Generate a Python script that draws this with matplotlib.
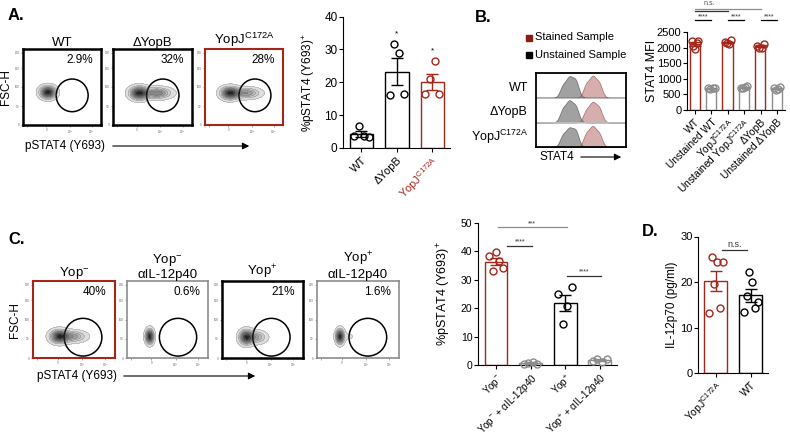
import numpy as np
import matplotlib
matplotlib.use("Agg")
import matplotlib.pyplot as plt
from matplotlib.patches import Ellipse, Rectangle, FancyArrowPatch

plt.rcParams['font.family'] = ['Liberation Sans', 'DejaVu Sans']
plt.rcParams['mathtext.fontset'] = 'custom'
plt.rcParams['mathtext.rm'] = 'Liberation Sans'
plt.rcParams['mathtext.it'] = 'Liberation Sans:italic'
plt.rcParams['mathtext.bf'] = 'Liberation Sans:bold'
plt.rcParams['mathtext.default'] = 'regular'

RED = '#a3261b'
GRAY = '#8c8c8c'
W, H = 790, 438

# ── data ──────────────────────────────────────────────────────────────────
YOPJ = r'YopJ$^{C172A}$'
YOPM = r'Yop$^{-}$'
YOPP = r'Yop$^{+}$'

# A: flow gates + pSTAT4 bars
a_flow_titles = ['WT', 'ΔYopB', YOPJ]
a_flow_pct = ['2.9%', '32%', '28%']
a_labels = ['WT', 'ΔYopB', YOPJ]
a_label_colors = ['k', 'k', RED]
a_wt = [3.8, 6.7, 3.5, 3.2]
a_dyopb = [16.0, 31.5, 29.0, 16.5]
a_yopj = [16.5, 21.0, 26.5, 16.5]
a_stars = ['', '*', '*']

# B: STAT4 histograms + MFI bars
b_rows = ['WT', 'ΔYopB', YOPJ]
b_unst_amp = [[0.45, 0.72, 0.65], [0.50, 0.75, 0.60], [0.45, 0.65, 0.62]]
b_stain_amp = [[0.50, 0.75, 0.55], [0.45, 0.70, 0.55], [0.50, 0.72, 0.50]]
b_labels = ['WT', 'Unstained WT', YOPJ, 'Unstained ' + YOPJ, 'ΔYopB', 'Unstained ΔYopB']
b_vals = [
    [2200, 2050, 1950, 2150, 2220],
    [690, 660, 700, 690],
    [2180, 2150, 2100, 2230],
    [720, 700, 740, 760],
    [2050, 1980, 2000, 2120],
    [700, 650, 680, 750],
]

# C: flow gates + pSTAT4 bars
c_flow_titles = [YOPM, YOPM + '\nαIL-12p40', YOPP, YOPP + '\nαIL-12p40']
c_flow_pct = ['40%', '0.6%', '21%', '1.6%']
c_labels = [YOPM, YOPM + ' + αIL-12p40', YOPP, YOPP + ' + αIL-12p40']
c_vals = [
    [38.5, 33.0, 39.8, 36.5, 34.0],
    [0.3, 0.8, 1.2, 0.5],
    [25.0, 14.4, 20.8, 27.3],
    [1.5, 2.0, 1.2, 2.2],
]

# D: IL-12p70
d_labels = [YOPJ, 'WT']
d_yopj = [13.1, 25.6, 19.6, 24.3, 14.2, 24.3]
d_wt = [13.4, 16.9, 22.2, 20.0, 14.3, 15.5]

fig = plt.figure(figsize=(7.9, 4.38), dpi=100)


def px_axes(x0, y0, x1, y1):
    return fig.add_axes([x0 / W, 1 - y1 / H, (x1 - x0) / W, (y1 - y0) / H])


def ftext(x, y, s, **kw):
    fig.text(x / W, 1 - y / H, s, **kw)


def farrow(x0, x1, y):
    fig.add_artist(FancyArrowPatch((x0 / W, 1 - y / H), (x1 / W, 1 - y / H),
                                   transform=fig.transFigure, arrowstyle='-|>',
                                   mutation_scale=10, lw=0.8, color='k'))


gx, gy = np.meshgrid(np.linspace(0, 1, 220), np.linspace(0, 1, 220))


def flow_plot(box, title, pct, edge, lw, blob, gate):
    ax = px_axes(*box)
    cx, cy, sx, sy, tail, tx = blob
    z = np.exp(-((gx - cx) ** 2 / (2 * sx ** 2) + (gy - cy) ** 2 / (2 * sy ** 2)))
    z += tail * np.exp(-((gx - tx) ** 2 / (2 * (sx * 1.5) ** 2) + (gy - cy) ** 2 / (2 * (sy * 0.85) ** 2)))
    z /= z.max()
    lev = np.linspace(0.04, 1.0, 10)
    ax.contourf(gx, gy, z, levels=lev, cmap='Greys', vmin=-0.2, vmax=1.1)
    ax.contour(gx, gy, z, levels=lev, colors='#6a6a6a', linewidths=0.2)
    ax.add_patch(Ellipse(gate[:2], gate[2], gate[3], fill=False, lw=1.1, color='k'))
    ax.set_xlim(0, 1)
    ax.set_ylim(0, 1)
    for s in ax.spines.values():
        s.set_edgecolor(edge)
        s.set_linewidth(lw)
    ax.set_xticks([0.05, 0.3, 0.6, 0.88])
    ax.set_xticklabels(['', '0', '10$^{3}$', '10$^{5}$'], fontsize=2.2, color='#666666')
    ax.set_yticks([0.0, 0.25, 0.5, 0.75, 0.95])
    ax.set_yticklabels(['0', '50', '100', '150', '200'], fontsize=2.2, color='#666666')
    ax.tick_params(length=1.5, width=0.4, pad=1, colors='#666666')
    ax.text(0.9, 0.86, pct, transform=ax.transAxes, ha='right', va='center', fontsize=8.5)
    ax.set_title(title, fontsize=9.5, pad=2, linespacing=1.1)
    return ax


def bar_panel(box, groups, colors, labels, label_colors, ylim, yticks, ylabel, lab_x,
              tick_fs, lab_fs):
    ax = px_axes(*box)
    n = len(groups)
    for i, (pts, c) in enumerate(zip(groups, colors)):
        pts = np.asarray(pts, dtype=float)
        m = pts.mean()
        sem = pts.std(ddof=1) / np.sqrt(len(pts))
        ax.bar(i, m, width=0.66, facecolor='white', edgecolor=c, lw=1.0, zorder=1)
        ax.errorbar(i, m, yerr=sem, color=c, capsize=4, lw=1.0, capthick=1.0, zorder=3)
        offs = np.linspace(-0.2, 0.2, len(pts))
        ax.plot(i + offs, pts, 'o', mfc='none', mec=c, ms=5, mew=1.0, zorder=4, clip_on=False)
    ax.set_xlim(-0.52, n - 0.5)
    ax.set_ylim(*ylim)
    ax.set_yticks(yticks)
    ax.set_xticks(range(n))
    ax.set_xticklabels(labels, rotation=45, ha='right', rotation_mode='anchor', fontsize=tick_fs)
    for lbl, c in zip(ax.get_xticklabels(), label_colors):
        lbl.set_color(c)
    ax.tick_params(axis='y', labelsize=tick_fs + 0.5, length=3, width=0.8, pad=1)
    ax.tick_params(axis='x', length=3, width=0.8, pad=2)
    for s in ['top', 'right']:
        ax.spines[s].set_visible(False)
    for s in ['left', 'bottom']:
        ax.spines[s].set_linewidth(0.8)
    ax.set_ylabel(ylabel, fontsize=lab_fs)
    ax.yaxis.set_label_coords(lab_x, 0.5)
    return ax


def sig(ax, x0, x1, y, txt, color='k', fs=5.5, dy=0.0):
    ax.plot([x0, x1], [y, y], color=color, lw=0.9, clip_on=False)
    ax.text((x0 + x1) / 2, y + dy, txt, ha='center', va='bottom', fontsize=fs, color='#333333')


# ── A ─────────────────────────────────────────────────────────────────────
ftext(8, 16, 'A.', fontsize=12, fontweight='bold', va='center')
a_boxes = [(23, 49, 101, 125), (113, 49, 192, 125), (205, 49, 283, 125)]
a_edges = [('k', 1.8), ('k', 1.8), (RED, 1.5)]
a_blobs = [(0.32, 0.43, 0.06, 0.048, 0.0, 0.5),
           (0.33, 0.42, 0.07, 0.05, 0.6, 0.56),
           (0.32, 0.42, 0.07, 0.048, 0.5, 0.53)]
a_gates = [(0.63, 0.39, 0.41, 0.43), (0.63, 0.39, 0.41, 0.43), (0.64, 0.39, 0.41, 0.43)]
for i in range(3):
    flow_plot(a_boxes[i], a_flow_titles[i], a_flow_pct[i], a_edges[i][0], a_edges[i][1],
              a_blobs[i], a_gates[i])
ftext(6, 87, 'FSC-H', rotation=90, fontsize=8.5, ha='center', va='center')
ftext(25, 146, 'pSTAT4 (Y693)', fontsize=8.5, va='center')
farrow(110, 252, 146)

axA = bar_panel((343, 16.5, 450, 148), [a_wt, a_dyopb, a_yopj], ['k', 'k', RED], a_labels,
                a_label_colors, (0, 40), [0, 10, 20, 30, 40], r'%pSTAT4 (Y693)$^{+}$',
                -0.24, 8, 8.5)
for i, (pts, s) in enumerate(zip([a_wt, a_dyopb, a_yopj], a_stars)):
    if s:
        axA.text(i, max(pts) + 2.0, s, ha='center', va='bottom', fontsize=6)

# ── B ─────────────────────────────────────────────────────────────────────
ftext(475, 17, 'B.', fontsize=12, fontweight='bold', va='center')
fig.add_artist(Rectangle((526 / W, 1 - 41 / H), 6 / W, 6 / H, transform=fig.transFigure,
                         color='#8b1a10'))
fig.add_artist(Rectangle((526 / W, 1 - 58 / H), 6 / W, 6 / H, transform=fig.transFigure,
                         color='k'))
ftext(535, 37, 'Stained Sample', fontsize=8, va='center')
ftext(535, 55, 'Unstained Sample', fontsize=8, va='center')

axH = px_axes(536, 73, 626, 147)
hx = np.linspace(0, 1, 300)
unst_pos = [0.30, 0.37, 0.44]
stain_pos = [0.56, 0.63, 0.70]
for r in range(3):
    base = 2 - r
    yu = sum(a * np.exp(-(hx - p) ** 2 / (2 * 0.035 ** 2)) for a, p in zip(b_unst_amp[r], unst_pos))
    ys = sum(a * np.exp(-(hx - p) ** 2 / (2 * 0.035 ** 2)) for a, p in zip(b_stain_amp[r], stain_pos))
    axH.fill_between(hx, base, base + ys, color='#c99393', alpha=0.75, lw=0.5, edgecolor='#8b4c4c')
    axH.fill_between(hx, base, base + yu, color='#7a7a7a', alpha=0.7, lw=0.5, edgecolor='#444444')
    if r > 0:
        axH.axhline(base + 1, color='#cccccc', lw=0.6)
    ftext(528, 88 + r * 24.5, b_rows[r], fontsize=9, ha='right', va='center')
axH.set_xlim(0, 1)
axH.set_ylim(0, 3)
axH.set_xticks([])
axH.set_yticks([])
for s in axH.spines.values():
    s.set_linewidth(1.3)
ftext(540, 157, 'STAT4', fontsize=8.5, va='center')
farrow(578, 624, 157)

axB = bar_panel((687, 32, 785, 110), b_vals, [RED, GRAY, RED, GRAY, RED, GRAY], b_labels,
                ['k'] * 6, (0, 2500), [0, 500, 1000, 1500, 2000, 2500], 'STAT4 MFI',
                -0.30, 7.5, 9)
for bc in axB.patches:
    bc.set_width(0.62)
axB.set_xlim(-0.49, 5.49)
for i in range(3):
    sig(axB, 2 * i, 2 * i + 1, 2880, '****', fs=5)
axB.plot([0, 4], [3240, 3240], color=GRAY, lw=0.9, clip_on=False)
axB.plot([0, 2], [3170, 3170], color='#333333', lw=0.9, clip_on=False)
axB.text(0.9, 3300, 'n.s.', ha='center', va='bottom', fontsize=5, color='#555555')

# ── C ─────────────────────────────────────────────────────────────────────
ftext(8, 240, 'C.', fontsize=12, fontweight='bold', va='center')
c_boxes = [(33, 281, 115, 358), (127, 281, 208, 358), (222, 281, 303, 358), (317, 281, 399, 358)]
c_edges = [(RED, 1.5), (GRAY, 1.2), ('k', 1.8), (GRAY, 1.2)]
c_blobs = [(0.32, 0.28, 0.065, 0.05, 0.5, 0.48),
           (0.28, 0.28, 0.03, 0.055, 0.0, 0.5),
           (0.30, 0.27, 0.05, 0.055, 0.45, 0.42),
           (0.28, 0.28, 0.03, 0.055, 0.05, 0.4)]
c_gates = [(0.61, 0.27, 0.46, 0.49), (0.63, 0.27, 0.46, 0.49), (0.61, 0.27, 0.46, 0.49),
           (0.62, 0.27, 0.46, 0.49)]
for i in range(4):
    flow_plot(c_boxes[i], c_flow_titles[i], c_flow_pct[i], c_edges[i][0], c_edges[i][1],
              c_blobs[i], c_gates[i])
ftext(15, 320, 'FSC-H', rotation=90, fontsize=8.5, ha='center', va='center')
ftext(37, 376, 'pSTAT4 (Y693)', fontsize=8.5, va='center')
farrow(121, 258, 376)

axC = bar_panel((478, 223, 617, 365), c_vals, [RED, GRAY, 'k', GRAY], c_labels,
                ['k'] * 4, (0, 50), [0, 10, 20, 30, 40, 50], r'%pSTAT4 (Y693)$^{+}$',
                -0.18, 7, 9)
sig(axC, 0.05, 2.05, 48.5, '***', color=GRAY, fs=5)
sig(axC, 0.33, 1.05, 42, '****', color='#333333', fs=5)
sig(axC, 2.05, 3.05, 31.5, '****', color='#333333', fs=5)

# ── D ─────────────────────────────────────────────────────────────────────
ftext(642, 232, 'D.', fontsize=12, fontweight='bold', va='center')
axD = bar_panel((698, 236.5, 768, 373), [d_yopj, d_wt], [RED, 'k'], d_labels, ['k', 'k'],
                (0, 30), [0, 10, 20, 30], 'IL-12p70 (pg/ml)', -0.29, 7.5, 8.5)
axD.set_xlim(-0.51, 1.49)
sig(axD, 0.17, 0.89, 27, 'n.s.', color='#333333', fs=6.5, dy=0.3)

fig.savefig('out.png', dpi=100)
